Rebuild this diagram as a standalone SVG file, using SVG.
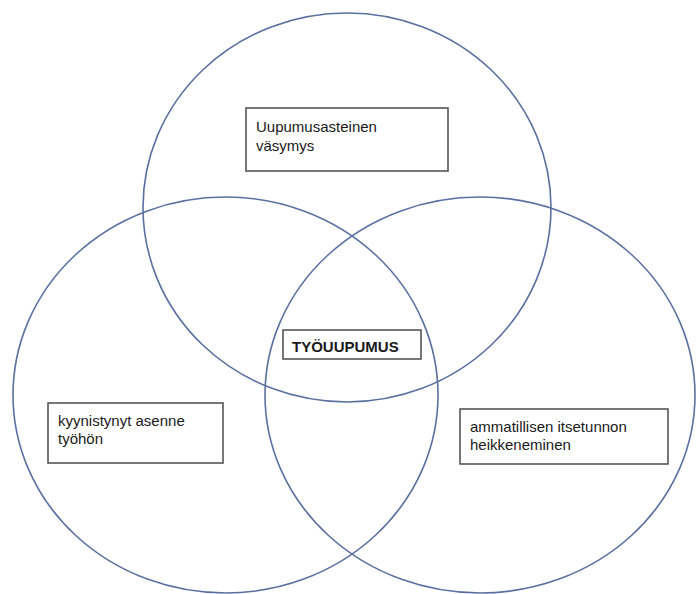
<svg xmlns="http://www.w3.org/2000/svg" width="696" height="594" viewBox="0 0 696 594">
<style>
.c{fill:none;stroke:#5a70a0;stroke-width:1.6}
.b{fill:#fff;stroke:#555;stroke-width:1.6}
.t{font-family:"Liberation Sans",Arial,sans-serif;font-size:15px;fill:#1a1a1a}
.bold{font-weight:bold}
</style>
<rect width="696" height="594" fill="#fff"/>
<g id="circles">
<ellipse id="circle-top" class="c" cx="347" cy="207.5" rx="204" ry="194.5"/>
<ellipse id="circle-left" class="c" cx="225.5" cy="395" rx="212.5" ry="198"/>
<ellipse id="circle-right" class="c" cx="480" cy="395" rx="215" ry="198"/>
</g>
<g id="node-vasymys">
<rect class="b" x="246" y="108" width="202" height="63"/>
<text class="t" x="256" y="132">Uupumusasteinen</text>
<text class="t" x="256" y="150.5">väsymys</text>
</g>
<g id="node-tyouupumus">
<rect class="b" x="283" y="330" width="138" height="29"/>
<text class="t bold" x="292" y="352">TYÖUUPUMUS</text>
</g>
<g id="node-kyynistynyt">
<rect class="b" x="48" y="403" width="175" height="60"/>
<text class="t" x="58" y="426">kyynistynyt asenne</text>
<text class="t" x="58" y="443.5">työhön</text>
</g>
<g id="node-ammatillisen">
<rect class="b" x="460" y="409" width="208" height="55"/>
<text class="t" x="470" y="432">ammatillisen itsetunnon</text>
<text class="t" x="470" y="450">heikkeneminen</text>
</g>
</svg>
